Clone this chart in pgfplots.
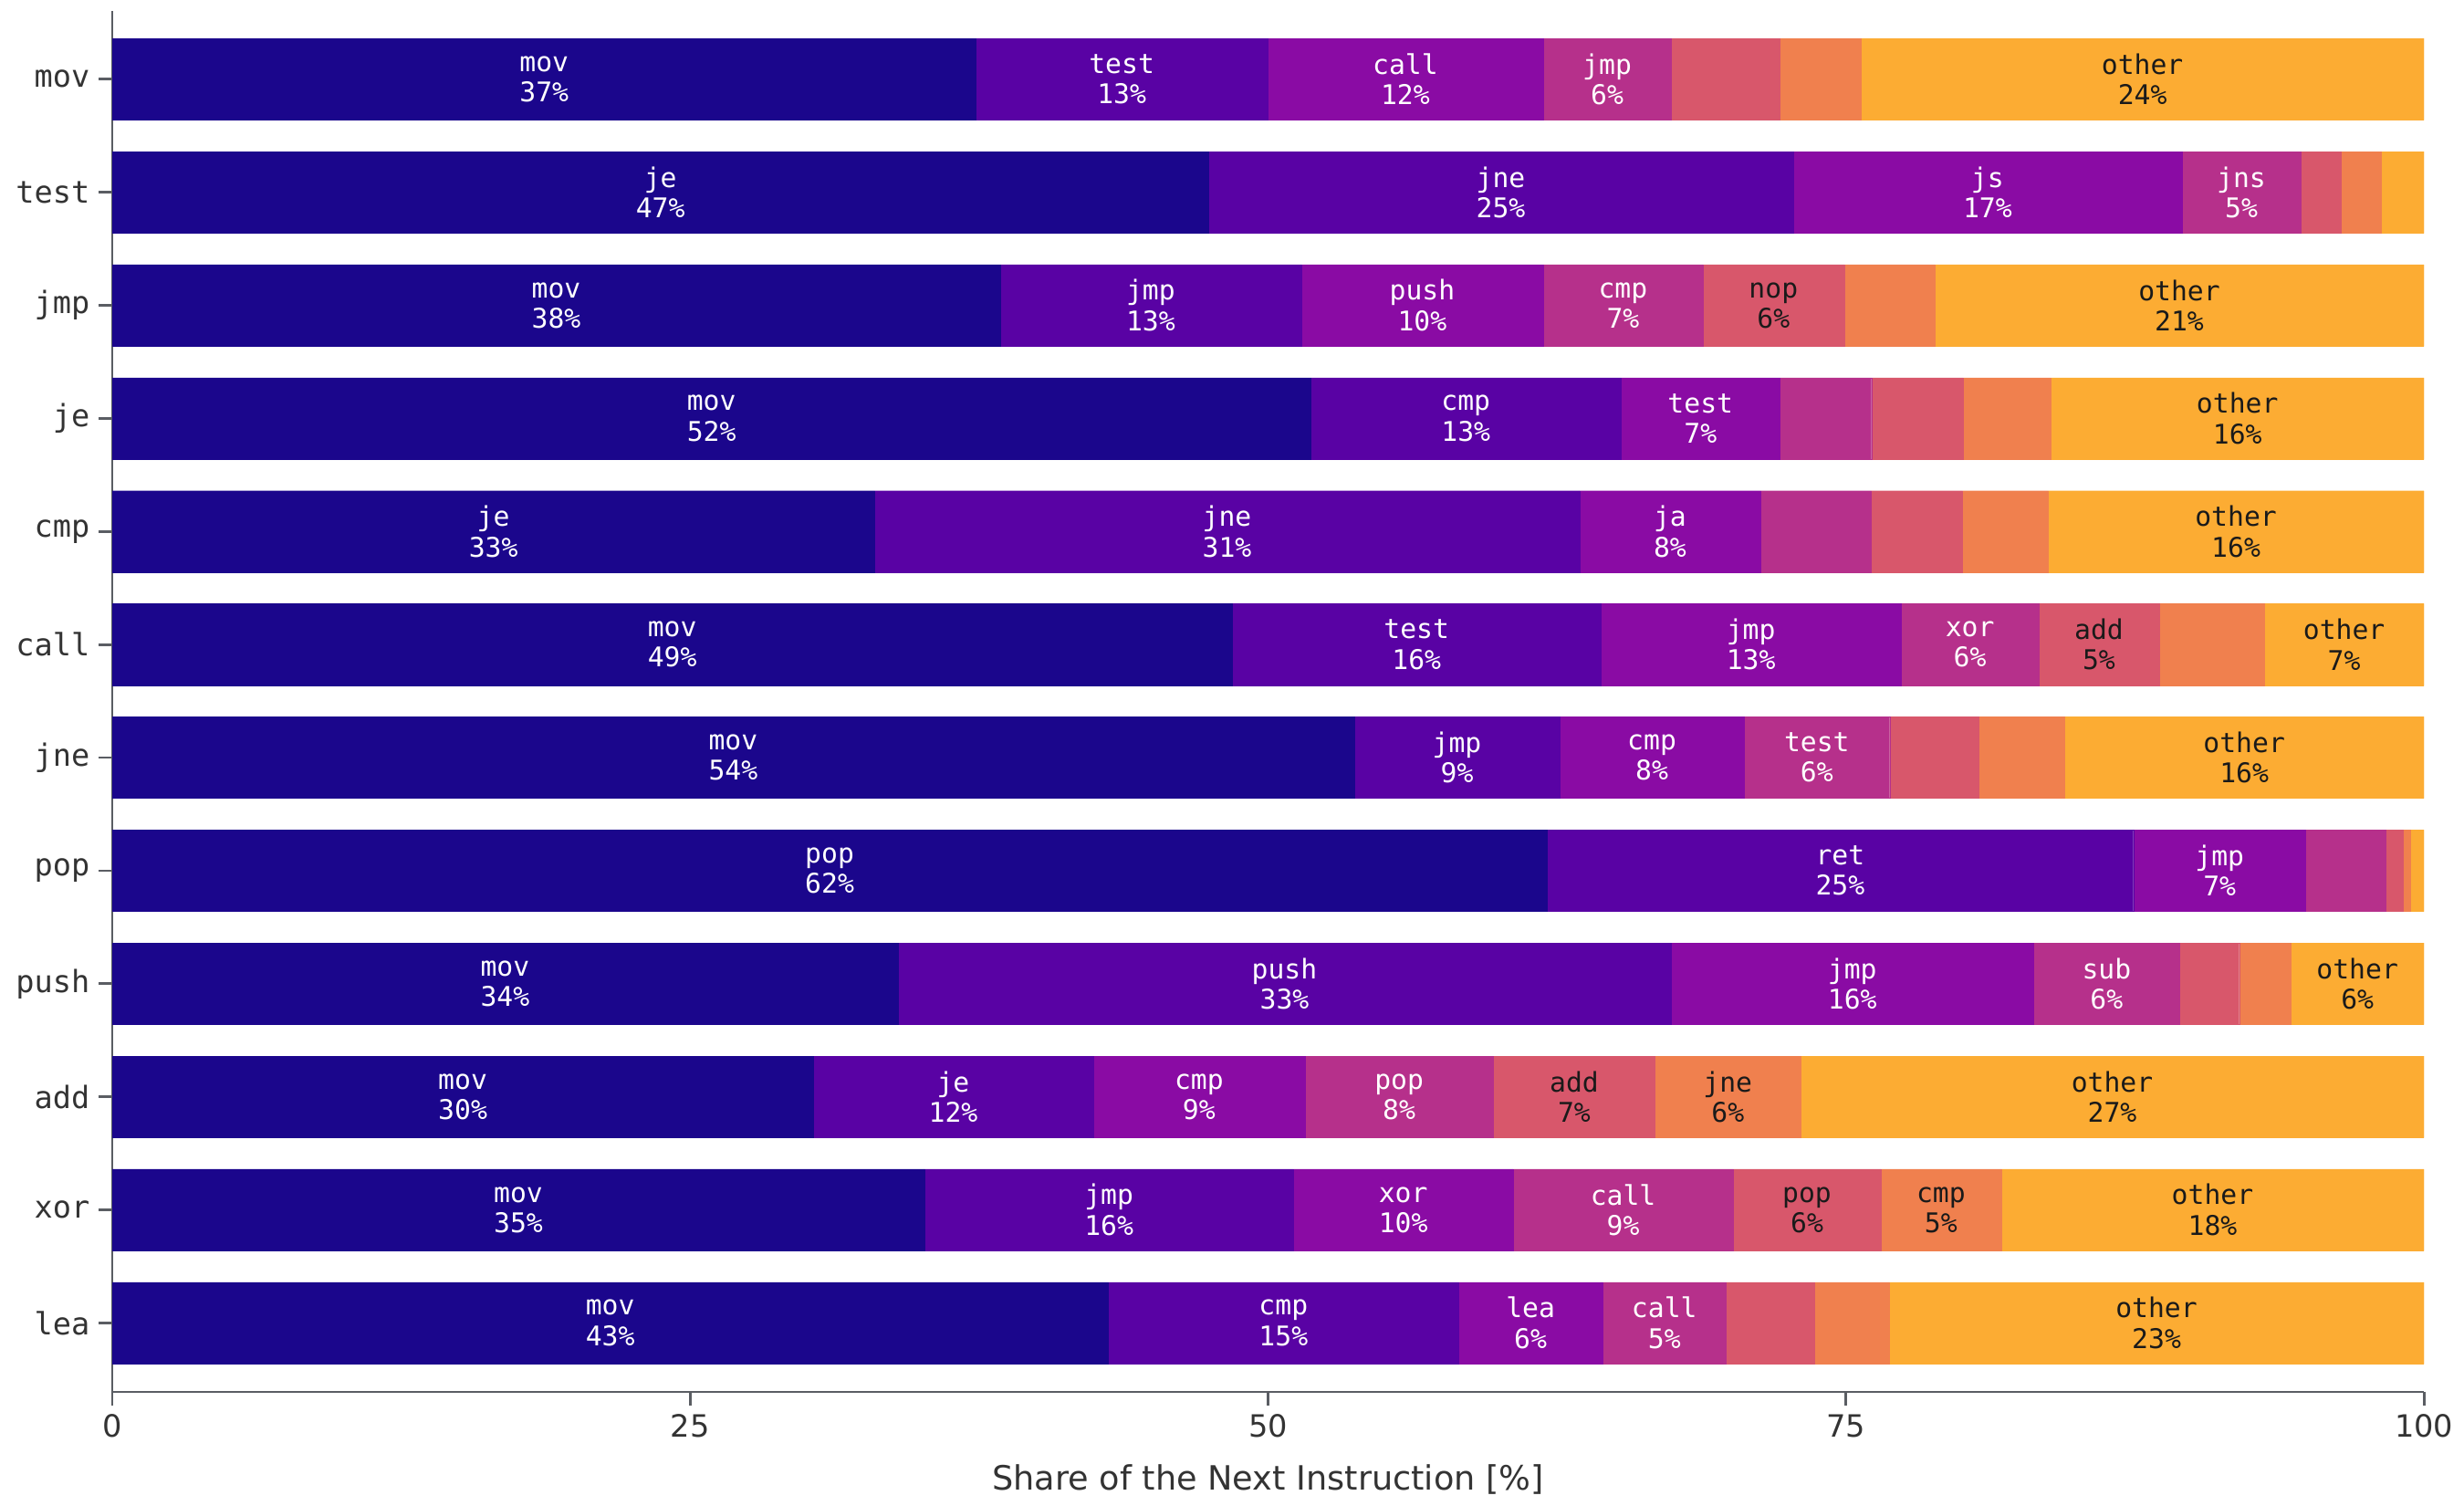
\documentclass[border=0pt]{standalone}
\usepackage{fontspec}
\setmainfont{DejaVu Sans}
\newfontfamily\mono{DejaVu Sans Mono}
\usepackage{pgfplots}
\usepackage{pgfplotstable}
\pgfplotsset{compat=1.18}

\definecolor{c1}{HTML}{1B068C}
\definecolor{c2}{HTML}{5902A4}
\definecolor{c3}{HTML}{8A0BA4}
\definecolor{c4}{HTML}{B6308B}
\definecolor{c5}{HTML}{D8576B}
\definecolor{c6}{HTML}{F0804E}
\definecolor{c7}{HTML}{FCAC33}
\definecolor{spine}{HTML}{5A5D63}
\definecolor{lab}{HTML}{333333}
\definecolor{dk}{HTML}{1A1A1A}

\def\dashstr{-}
\def\seglab#1/#2\relax{\def\tmpa{#1}\ifx\tmpa\dashstr\let\seglabnext\relax\else\def\seglabnext{#1\\#2\%}\fi\seglabnext}

\pgfplotstableread{
y v lab
11 37.36 mov/37
10 47.42 je/47
9 38.41 mov/38
8 51.84 mov/52
7 32.97 je/33
6 48.45 mov/49
5 53.72 mov/54
4 62.06 pop/62
3 33.98 mov/34
2 30.32 mov/30
1 35.13 mov/35
0 43.08 mov/43
}\tA
\pgfplotstableread{
y v lab
11 12.61 test/13
10 25.29 jne/25
9 13.02 jmp/13
8 13.43 cmp/13
7 30.50 jne/31
6 15.94 test/16
5 8.90 jmp/9
4 25.37 ret/25
3 33.45 push/33
2 12.11 je/12
1 15.97 jmp/16
0 15.16 cmp/15
}\tB
\pgfplotstableread{
y v lab
11 11.93 call/12
10 16.82 js/17
9 10.47 push/10
8 6.86 test/7
7 7.83 ja/8
6 12.99 jmp/13
5 7.96 cmp/8
4 7.46 jmp/7
3 15.68 jmp/16
2 9.16 cmp/9
1 9.49 xor/10
0 6.22 lea/6
}\tC
\pgfplotstableread{
y v lab
11 5.53 jmp/6
10 5.14 jns/5
9 6.90 cmp/7
8 3.97 -/-
7 4.78 -/-
6 5.96 xor/6
5 6.31 test/6
4 3.47 -/-
3 6.32 sub/6
2 8.15 pop/8
1 9.53 call/9
0 5.36 call/5
}\tD
\pgfplotstableread{
y v lab
11 4.70 -/-
10 1.73 -/-
9 6.12 nop/6
8 3.95 -/-
7 3.96 -/-
6 5.20 add/5
5 3.83 -/-
4 0.75 -/-
3 2.58 -/-
2 7.00 add/7
1 6.38 pop/6
0 3.83 -/-
}\tE
\pgfplotstableread{
y v lab
11 3.51 -/-
10 1.73 -/-
9 3.91 -/-
8 3.81 -/-
7 3.69 -/-
6 4.55 -/-
5 3.73 -/-
4 0.30 -/-
3 2.23 -/-
2 6.29 jne/6
1 5.21 cmp/5
0 3.21 -/-
}\tF
\pgfplotstableread{
y v lab
11 24.36 other/24
10 1.87 -/-
9 21.17 other/21
8 16.14 other/16
7 16.27 other/16
6 6.91 other/7
5 15.55 other/16
4 0.59 -/-
3 5.76 other/6
2 26.97 other/27
1 18.29 other/18
0 23.14 other/23
}\tG

\pgfplotsset{
  seg/.style 2 args={
    fill=#1, draw=#1, line width=0.15pt,
    point meta=explicit symbolic,
    nodes near coords={\expandafter\seglab\pgfplotspointmeta\relax},
    nodes near coords style={text=#2},
  },
}

\begin{document}
\begin{tikzpicture}
\path[use as bounding box] (-44.3pt,-45pt) rectangle (927.7pt,549pt);
\begin{axis}[
  scale only axis,
  width=911.9pt, height=544.5pt,
  xbar stacked, bar width=0.72,
  every node near coord/.append style={anchor=center, align=center,
      font=\fontsize{10.7}{12}\mono},
  xmin=0, xmax=100, ymin=-0.61, ymax=11.6,
  axis x line*=bottom, axis y line*=left,
  axis line style={draw=spine, line width=1pt, -},
  tick style={draw=spine, line width=1pt},
  tick align=outside, major tick length=5.4pt,
  xtick={0,25,50,75,100},
  ytick={0,1,2,3,4,5,6,7,8,9,10,11},
  yticklabels={lea,xor,add,push,pop,jne,call,cmp,je,jmp,test,mov},
  /pgf/number format/assume math mode=true,
  xticklabel style={font=\fontsize{12.1}{14}\selectfont, text=lab},
  yticklabel style={font=\fontsize{12.1}{14}\mono, text=lab},
  xlabel={Share of the Next Instruction [\%]},
  xlabel style={at={(axis description cs:0.5,0)}, anchor=base, yshift=-38.6pt,
    font=\fontsize{13.2}{15}\selectfont, text=lab},
]
\addplot[seg={c1}{white}] table[x=v,y=y,meta=lab]{\tA};
\addplot[seg={c2}{white}] table[x=v,y=y,meta=lab]{\tB};
\addplot[seg={c3}{white}] table[x=v,y=y,meta=lab]{\tC};
\addplot[seg={c4}{white}] table[x=v,y=y,meta=lab]{\tD};
\addplot[seg={c5}{dk}] table[x=v,y=y,meta=lab]{\tE};
\addplot[seg={c6}{dk}] table[x=v,y=y,meta=lab]{\tF};
\addplot[seg={c7}{dk}] table[x=v,y=y,meta=lab]{\tG};
\end{axis}
\end{tikzpicture}
\end{document}
